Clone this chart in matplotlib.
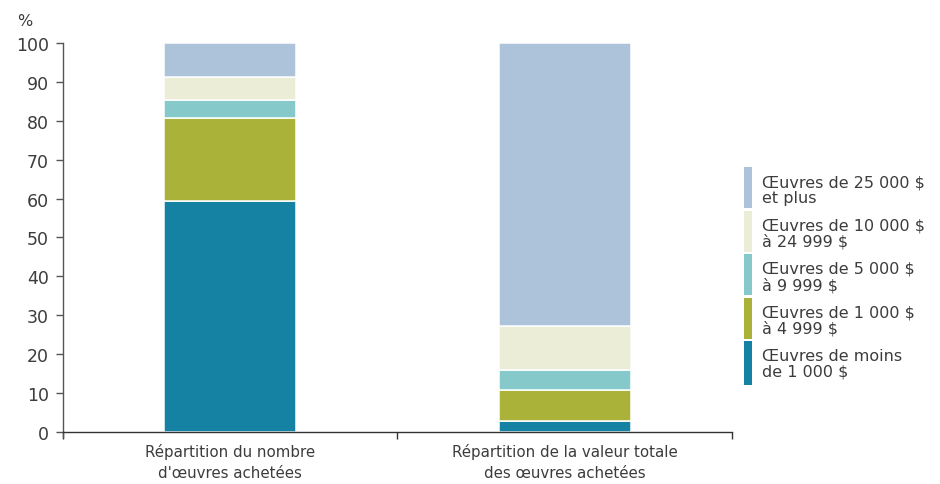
import matplotlib
matplotlib.use("Agg")
import matplotlib.pyplot as plt
from matplotlib.patches import Rectangle

categories = ["Répartition du nombre\nd'œuvres achetées",
              "Répartition de la valeur totale\ndes œuvres achetées"]
series_labels = ["Œuvres de moins\nde 1 000 $",
                 "Œuvres de 1 000 $\nà 4 999 $",
                 "Œuvres de 5 000 $\nà 9 999 $",
                 "Œuvres de 10 000 $\nà 24 999 $",
                 "Œuvres de 25 000 $\net plus"]
less_1000 = [59.4, 2.9]
from_1000 = [21.2, 8.0]
from_5000 = [4.7, 5.1]
from_10000 = [6.0, 11.3]
over_25000 = [8.7, 72.7]
colors = ["#1682A3", "#ABB23A", "#86C9CA", "#EBEDD6", "#ADC3DA"]

plt.rcParams['font.family'] = ['DejaVu Sans']
txt = "#3c3c3c"

fig = plt.figure(figsize=(9.4, 4.85), dpi=100)
ax = fig.add_axes([0.067, 0.1072, 0.7117, 0.8021])

series = [less_1000, from_1000, from_5000, from_10000, over_25000]
x = list(range(len(categories)))
bottom = [0.0] * len(categories)
for vals, col in zip(series, colors):
    ax.bar(x, vals, bottom=bottom, width=0.395, color=col,
           edgecolor="white", linewidth=1.1)
    bottom = [b + v for b, v in zip(bottom, vals)]

ax.set_xlim(-0.5, 1.5)
ax.set_ylim(0, 100)
ax.set_yticks(range(0, 101, 10))
ax.set_xticks(x)
ax.set_xticklabels(categories, fontsize=10.8, color=txt, linespacing=1.45)
ax.set_xticks([-0.5, 0.5, 1.5], minor=True)
ax.tick_params(axis='x', which='major', length=0, pad=8)
ax.tick_params(axis='x', which='minor', length=5, width=1, color="#333333", direction='out')
ax.tick_params(axis='y', length=5, width=1, color="#555555", labelsize=12.5, labelcolor=txt, pad=5)
for s in ["top", "right"]:
    ax.spines[s].set_visible(False)
ax.spines["left"].set_color("#555555")
ax.spines["bottom"].set_color("#333333")
ax.spines["left"].set_linewidth(1)
ax.spines["bottom"].set_linewidth(1)
ax.spines["left"].set_bounds(-1.2, 100)

fig.text(25/940, 1 - 21/485, "%", fontsize=11.5, color=txt, ha="center", va="center")

# legend (top entry = last series)
W, H = 940.0, 485.0
tops = [168, 211.5, 255, 298.5, 342]
for i, (lab, col) in enumerate(zip(series_labels[::-1], colors[::-1])):
    t = tops[i]
    h = 41 if i < 4 else 44
    fig.add_artist(Rectangle((744 / W, 1 - (t + h) / H), 8 / W, h / H,
                             transform=fig.transFigure, color=col, lw=0))
    fig.text(762 / W, 1 - (t + 7) / H, lab, fontsize=11.5, color=txt,
             ha="left", va="top", linespacing=1.05)

fig.savefig("out.png", dpi=100)
